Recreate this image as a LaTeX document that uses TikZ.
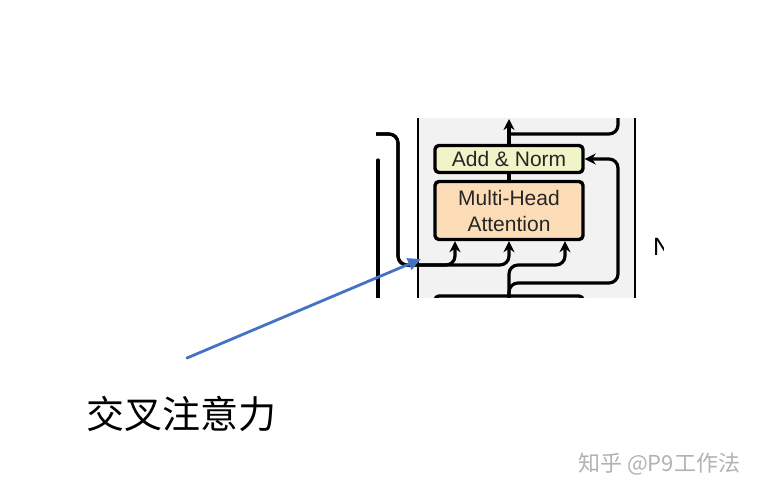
\documentclass[tikz,border=0pt]{standalone}
\usepackage{fontspec}
\setmainfont{Liberation Sans}
\newfontfamily\cjk{Noto Sans CJK SC}
\usetikzlibrary{arrows.meta}
\definecolor{panelgray}{HTML}{F2F2F2}
\definecolor{normfill}{HTML}{F1F4C8}
\definecolor{attnfill}{HTML}{FCDDB8}
\definecolor{pointblue}{HTML}{4472C4}

\begin{document}
\begin{tikzpicture}[x=1pt,y=-1pt,>={Stealth[length=11pt,width=11pt]}, line join=round, line cap=round,
	wire/.style={line width=3.2pt},
	block/.style={draw,line width=3.4pt,rounded corners=4pt,minimum width=148pt,inner sep=0pt,align=center,text=black!85,font=\fontsize{21}{26}\selectfont}]
	\useasboundingbox (0,0) rectangle (762,496);
	\begin{scope}
		\clip (376,118) rectangle (663,297);
		\fill[panelgray] (418,110) rectangle (635,300);
		\draw[line width=2.6pt] (418,110) -- (418,300) (635,110) -- (635,300);
		\draw[wire] (378,160) -- (378,300);
		\node[block,fill=normfill,minimum height=27pt] (norm) at (509,159) {Add \& Norm};
		\node[block,fill=attnfill,minimum height=58pt] (attn) at (509,210.5) {Multi-Head\\Attention};
		\node[block,minimum height=30pt] (next) at (509,311) {};
		\coordinate (enc) at (370,134);
		\coordinate (dec) at (509,300);
		\coordinate (out) at (509,119);
		\coordinate (res) at (509,134);
		\coordinate (up) at (618,110);
		\coordinate (side) at (618,283);
		\draw[wire] (attn.north) -- (norm.south);
		\draw[wire,->] (norm.north) -- (out);
		\draw[wire,rounded corners=9pt] (res) -| (up);
		\draw[wire,->,rounded corners=9pt] (enc) -| (398,265) -| ([xshift=-54pt]attn.south);
		\draw[wire,->,rounded corners=9pt] (enc) -| (398,265) -| (attn.south);
		\draw[wire,->,rounded corners=9pt] (dec) |- (565,265) -- ([xshift=56pt]attn.south);
		\draw[wire,->,rounded corners=9pt] (dec) |- (side) |- (norm.east);
		\node[anchor=west,inner sep=0pt,font=\fontsize{25}{25}\selectfont] (nlabel) at (653,247) {N};
	\end{scope}
	\coordinate (from) at (187,358);
	\coordinate (tip) at (421,259);
	\draw[pointblue,line width=2.8pt,-{Triangle[length=13pt,width=12pt]}] (from) -- (tip);
	\node[anchor=west,inner sep=0pt,font=\cjk\fontsize{38}{38}\selectfont] (cross) at (86,414) {交叉注意力};
	\node[anchor=west,inner sep=0pt,text=gray!60,font=\cjk\fontsize{22}{22}\selectfont] (mark) at (578,464) {知乎 @P9工作法};
\end{tikzpicture}
\end{document}
